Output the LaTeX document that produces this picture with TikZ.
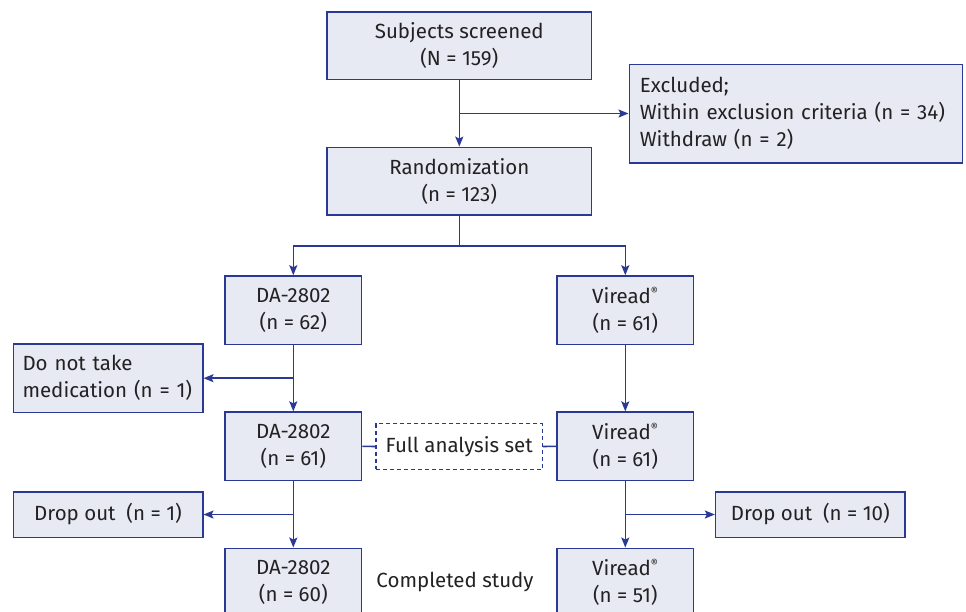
\documentclass[tikz,border=0pt]{standalone}
\usepackage{fontspec}
\setmainfont{Fira Sans}
\usetikzlibrary{arrows.meta}
\definecolor{bordc}{RGB}{42,56,150}
\definecolor{fillc}{RGB}{231,234,242}
\definecolor{txtc}{RGB}{35,33,35}
\tikzset{
  box/.style={draw=bordc, fill=fillc, line width=1.6pt, text=txtc, inner sep=0pt, align=center,
    font=\fontsize{20.5}{27}\selectfont},
  lbox/.style={box, align=left},
  dbox/.style={draw=bordc, dashed, dash pattern=on 4pt off 3pt, line width=1.4pt, text=txtc, inner sep=0pt,
    font=\fontsize{20.5}{27}\selectfont},
  conn/.style={draw=bordc, line width=1.6pt},
  arr/.style={conn, -{Stealth[length=10pt,width=8pt,inset=2pt]}},
}
\newcommand{\reg}{\textsuperscript{\fontsize{11}{11}\selectfont\textregistered}}
\begin{document}
\begin{tikzpicture}[x=1pt,y=-1pt]
\useasboundingbox (0,0) rectangle (966,611);
\clip (0,0) rectangle (966,611);
\node[box, minimum width=264.7pt, minimum height=67.6pt] (scr) at (459.3,45.5) {Subjects screened\\(N = 159)};
\node[box, minimum width=264.7pt, minimum height=67.6pt] (rnd) at (459.3,181.2) {Randomization\\(n = 123)};
\node[lbox, minimum width=333pt, minimum height=98.4pt, text width=312pt] (exc) at (795.8,113.5) {Excluded;\\Within exclusion criteria (n = 34)\\Withdraw (n = 2)};
\node[box, minimum width=136.7pt, minimum height=68.3pt] (da1) at (293.3,310.2) {DA-2802\\(n = 62)};
\node[box, minimum width=136.7pt, minimum height=68.3pt] (vi1) at (625.3,310.2) {Viread\reg\\(n = 61)};
\node[lbox, minimum width=189.4pt, minimum height=68.3pt, text width=171pt] (dnt) at (108,378.2) {Do not take\\medication (n = 1)};
\node[box, minimum width=136.7pt, minimum height=68.3pt] (da2) at (293.3,446.3) {DA-2802\\(n = 61)};
\node[box, minimum width=136.7pt, minimum height=68.3pt] (vi2) at (625.3,446.3) {Viread\reg\\(n = 61)};
\node[dbox, minimum width=166.3pt, minimum height=45.6pt] (fas) at (459.2,446.5) {Full analysis set};
\node[box, minimum width=189.4pt, minimum height=45.6pt] (do1) at (108,514.5) {Drop out\ \ (n = 1)};
\node[box, minimum width=189.3pt, minimum height=45.6pt] (do10) at (810.3,514.5) {Drop out\ \ (n = 10)};
\node[box, minimum width=136.7pt, minimum height=68.3pt] (da3) at (293.3,582.5) {DA-2802\\(n = 60)};
\node[box, minimum width=136.7pt, minimum height=68.3pt] (vi3) at (625.3,582.5) {Viread\reg\\(n = 51)};
\node[text=txtc, font=\fontsize{20.5}{27}\selectfont] (comp) at (455,582) {Completed study};
\coordinate (s1) at (459.3,245.7);
\draw[arr] (scr) -- (rnd);
\draw[arr] (scr.south |- exc.west) -- (exc.west);
\draw[conn] (rnd.south) -- (s1);
\draw[arr] (s1) -| (da1.north);
\draw[arr] (s1) -| (vi1.north);
\draw[arr] (da1) -- (da2);
\draw[arr] (da1.south |- dnt.east) -- (dnt.east);
\draw[arr] (vi1) -- (vi2);
\draw[conn] (da2.east) -- (fas.west);
\draw[conn] (fas.east) -- (vi2.west);
\draw[arr] (da2) -- (da3);
\draw[arr] (da2.south |- do1.east) -- (do1.east);
\draw[arr] (vi2) -- (vi3);
\draw[arr] (vi2.south |- do10.west) -- (do10.west);
\end{tikzpicture}
\end{document}
